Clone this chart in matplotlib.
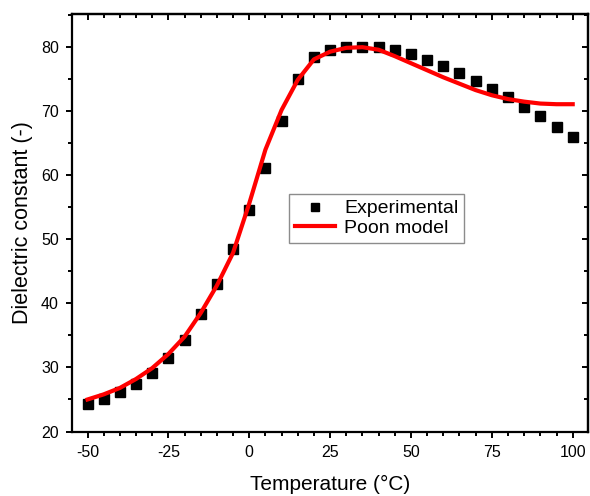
import numpy as np
import matplotlib
matplotlib.use("Agg")
from matplotlib import pyplot as plt
from matplotlib.ticker import MultipleLocator

plt.rcParams['font.family'] = ['Liberation Sans', 'DejaVu Sans']
plt.rcParams['axes.unicode_minus'] = False

# Experimental data, every 5 degC
temp_exp = [-50, -45, -40, -35, -30, -25, -20, -15, -10, -5, 0, 5, 10, 15, 20, 25,
            30, 35, 40, 45, 50, 55, 60, 65, 70, 75, 80, 85, 90, 95, 100]
eps_exp = [24.3, 25.1, 26.1, 27.4, 29.1, 31.4, 34.3, 38.3, 43.0, 48.5, 54.6, 61.2, 68.5, 75.0, 78.4, 79.5,
           80.0, 80.1, 80.0, 79.6, 78.9, 78.0, 77.0, 76.0, 74.8, 73.5, 72.3, 70.7, 69.3, 67.6, 66.0]

# Poon model curve
temp_model = [-50, -45, -40, -35, -30, -25, -20, -15, -10, -5, 0, 5, 10, 15, 20, 25,
              30, 35, 40, 45, 50, 55, 60, 65, 70, 75, 80, 85, 90, 95, 100]
eps_model = [25.0, 25.8, 26.8, 28.2, 29.9, 32.1, 34.8, 38.5, 42.8, 47.9, 55.6, 64.0, 70.2, 74.9, 78.1, 79.3,
             79.9, 80.0, 79.6, 78.6, 77.5, 76.4, 75.3, 74.3, 73.3, 72.5, 71.9, 71.5, 71.2, 71.1, 71.1]

fig = plt.figure(figsize=(5.9, 4.96), dpi=100)
ax = fig.add_axes([0.122, 0.130, 0.875, 0.842])

ax.plot(temp_exp, eps_exp, 's', color='black', markersize=7.4, linestyle='none', label='Experimental', zorder=3)
ax.plot(temp_model, eps_model, '-', color='#ff0000', linewidth=3.0, label='Poon model', zorder=4)

ax.set_xlim(-54.8, 104.8)
ax.set_ylim(20, 85.2)
ax.xaxis.set_major_locator(MultipleLocator(25))
ax.xaxis.set_minor_locator(MultipleLocator(5))
ax.yaxis.set_major_locator(MultipleLocator(10))
ax.yaxis.set_minor_locator(MultipleLocator(5))

for s in ax.spines.values():
    s.set_linewidth(1.6)

ax.tick_params(which='both', direction='out', top=False, right=False, labelsize=11.5, width=1.4)
ax.tick_params(which='major', length=4.5, pad=5)
ax.tick_params(which='minor', length=2.8)

# inward ticks on top and right, no labels
axt = ax.secondary_xaxis('top')
axt.xaxis.set_major_locator(MultipleLocator(25))
axt.xaxis.set_minor_locator(MultipleLocator(5))
axt.tick_params(which='both', direction='in', labeltop=False, width=1.4)
axt.tick_params(which='major', length=4.5)
axt.tick_params(which='minor', length=2.8)
axr = ax.secondary_yaxis('right')
axr.yaxis.set_major_locator(MultipleLocator(10))
axr.yaxis.set_minor_locator(MultipleLocator(5))
axr.tick_params(which='both', direction='in', labelright=False, width=1.4)
axr.tick_params(which='major', length=4.5)
axr.tick_params(which='minor', length=2.8)
for a in (axt, axr):
    for s in a.spines.values():
        s.set_linewidth(1.6)

ax.set_xlabel('Temperature (\u00b0C)', fontsize=15, labelpad=11)
ax.set_ylabel('Dielectric constant (-)', fontsize=15.5, labelpad=6)

leg = ax.legend(loc='upper left', bbox_to_anchor=(0.42, 0.569), fontsize=14, frameon=True,
                fancybox=False, edgecolor='#707070', markerscale=0.8, handlelength=2.1,
                borderpad=0.3, labelspacing=0.1, handletextpad=0.45, borderaxespad=0)
leg.get_frame().set_linewidth(1.0)

fig.savefig('out.png', dpi=100)
